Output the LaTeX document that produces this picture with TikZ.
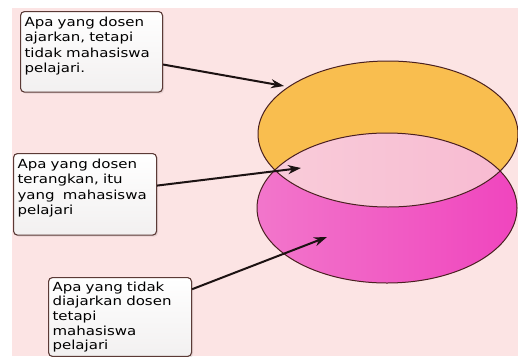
\documentclass[tikz,border=0pt]{standalone}
\usepackage{fontspec}
\setmainfont{DejaVu Sans}[FakeStretch=1.2]
\usetikzlibrary{arrows.meta,shadows}

\definecolor{bgpink}{HTML}{FCE4E4}
\definecolor{orangeset}{HTML}{F9BE4F}
\definecolor{magleft}{HTML}{F276CB}
\definecolor{magright}{HTML}{F045BE}
\definecolor{midpink}{HTML}{F8C4D3}
\definecolor{rimdark}{HTML}{4A2020}
\definecolor{boxline}{HTML}{5B3A36}
\definecolor{boxgrey}{HTML}{F2F0F0}
\definecolor{arrowdark}{HTML}{1C1212}

\tikzset{
  note/.style={draw=boxline, line width=1.1pt, rounded corners=4pt,
    top color=white, bottom color=boxgrey, anchor=north west, align=left,
    inner xsep=4pt, inner ysep=5pt,
    font=\fontsize{12.5}{15.5}\selectfont,
    drop shadow={opacity=0.18, shadow xshift=1.5pt, shadow yshift=-1.5pt}},
  pad/.style={execute at end node={\par\vspace*{#1}}},
  pointer/.style={-{Stealth[length=13pt,width=9pt]}, line width=2pt, draw=arrowdark},
  rim/.style={draw=rimdark, line width=1pt}
}

\begin{document}
\begin{tikzpicture}[x=1pt,y=-1pt]
  \useasboundingbox (0,0) rectangle (518,356);
  \fill[white] (0,0) rectangle (518,356);
  \fill[bgpink] (12,8) rectangle (518,356);

  % the two sets
  \fill[orangeset] (388,134) ellipse [x radius=130, y radius=73];
  \shade[left color=magleft, right color=magright] (387,208) ellipse [x radius=130, y radius=75];
  \begin{scope}
    \clip (388,134) ellipse [x radius=130, y radius=73];
    \shade[left color=midpink!85!white, right color=midpink!92!magright] (387,208) ellipse [x radius=130, y radius=75];
  \end{scope}
  \draw[rim] (388,134) ellipse [x radius=130, y radius=73];
  \draw[rim] (387,208) ellipse [x radius=130, y radius=75];

  % notes
  \node[note, text width=134pt, pad=12pt] (ajar) at (20,11)
    {Apa yang dosen\\ajarkan, tetapi\\tidak mahasiswa\\pelajari.};
  \node[note, text width=135pt, pad=13pt] (terang) at (13,153)
    {Apa yang dosen\\terangkan, itu\\yang\ \ mahasiswa\\pelajari};
  \node[note, text width=135pt, inner ysep=4pt, font=\fontsize{12.5}{14.7}\selectfont] (tidak) at (48,277)
    {Apa yang tidak\\diajarkan dosen\\tetapi\\mahasiswa\\pelajari};

  \coordinate (ajarTip) at (284,86);
  \coordinate (terangTip) at (301,168);
  \coordinate (tidakTip) at (327,237);

  \path[pointer] (ajar) edge (ajarTip);
  \path[pointer] (terang) edge (terangTip);
  \path[pointer] (tidak) edge (tidakTip);
\end{tikzpicture}
\end{document}
